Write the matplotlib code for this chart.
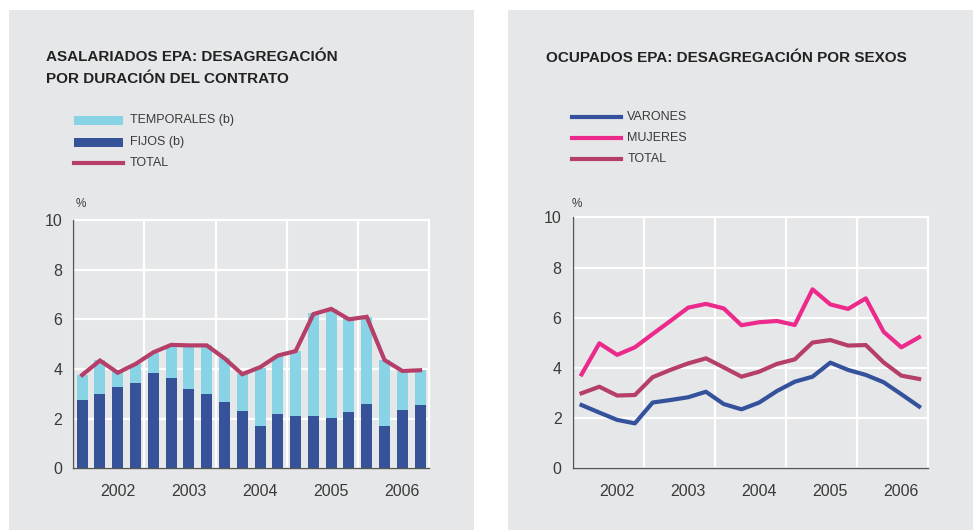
import matplotlib
matplotlib.use("Agg")
import matplotlib.pyplot as plt
from matplotlib.patches import Rectangle
from matplotlib.lines import Line2D

plt.rcParams['font.family'] = ['Liberation Sans', 'DejaVu Sans']

# quarterly data, 2002 Q1 .. 2006 Q4
years = ["2002", "2003", "2004", "2005", "2006"]

fijos = [2.75, 2.99, 3.28, 3.44, 3.84, 3.64, 3.19, 2.99, 2.67, 2.31,
         1.70, 2.19, 2.11, 2.11, 2.03, 2.27, 2.59, 1.70, 2.35, 2.55]
temporales = [1.01, 1.37, 0.64, 0.76, 0.79, 1.33, 1.78, 1.98, 1.76, 1.48,
              2.33, 2.33, 2.60, 4.13, 4.39, 3.77, 3.49, 2.66, 1.57, 1.41]
total_asal = [3.76, 4.34, 3.85, 4.20, 4.67, 4.97, 4.95, 4.95, 4.43, 3.79,
              4.07, 4.54, 4.72, 6.21, 6.42, 6.00, 6.10, 4.36, 3.92, 3.95]

varones = [2.52, 2.22, 1.93, 1.79, 2.62, 2.72, 2.83, 3.05, 2.56, 2.35,
           2.62, 3.08, 3.45, 3.65, 4.21, 3.92, 3.72, 3.43, 2.95, 2.46]
mujeres = [3.74, 4.98, 4.52, 4.82, 5.35, 5.87, 6.40, 6.55, 6.37, 5.70,
           5.82, 5.87, 5.71, 7.13, 6.53, 6.35, 6.77, 5.44, 4.82, 5.22]
total_ocup = [2.99, 3.25, 2.90, 2.92, 3.63, 3.92, 4.18, 4.38, 4.02, 3.65,
              3.85, 4.16, 4.34, 5.01, 5.11, 4.89, 4.91, 4.22, 3.69, 3.56]

BG = '#e6e7e9'
C_FIJ = '#36539a'
C_TEMP = '#88d3e6'
C_TOT = '#b53f68'
C_MUJ = '#ec2a8c'
C_VAR = '#34529b'
TXT = '#3a3a3a'

W, H = 973, 530
fig = plt.figure(figsize=(W / 100, H / 100), dpi=100)


def fx(px):
    return px / W


def fy(py):
    return 1 - py / H


# gray panels
fig.patches.append(Rectangle((fx(9), 0), fx(474) - fx(9), fy(10), transform=fig.transFigure,
                             facecolor=BG, edgecolor='none', zorder=-10))
fig.patches.append(Rectangle((fx(508), 0), 1 - fx(508), fy(10), transform=fig.transFigure,
                             facecolor=BG, edgecolor='none', zorder=-10))

x = [i + 0.5 for i in range(len(fijos))]


def style_axes(ax):
    ax.set_facecolor('none')
    ax.set_xlim(0, 20)
    ax.set_ylim(0, 10)
    ax.set_yticks([0, 2, 4, 6, 8, 10])
    ax.set_xticks([0, 4, 8, 12, 16, 20])
    ax.set_xticklabels([])
    ax.set_xticks([2.48 + 4 * i for i in range(5)], minor=True)
    ax.set_xticklabels(years, minor=True)
    ax.tick_params(axis='both', which='both', length=0, colors=TXT, labelsize=11.5)
    ax.tick_params(axis='y', pad=8)
    ax.tick_params(axis='x', which='minor', pad=11)
    for s in ['top', 'right']:
        ax.spines[s].set_visible(False)
    for s in ['left', 'bottom']:
        ax.spines[s].set_color('#555555')
        ax.spines[s].set_linewidth(1.0)
    ax.grid(True, which='major', color='white', linewidth=1.6, zorder=0)
    ax.set_axisbelow(True)
    for line in ax.get_xgridlines() + ax.get_ygridlines():
        line.set_clip_on(False)


# left panel
ax1 = fig.add_axes([fx(73.3), fy(468.3), fx(429) - fx(73.3), fy(220) - fy(468.3)])
style_axes(ax1)
ax1.bar(x, fijos, width=0.62, color=C_FIJ, zorder=2)
ax1.bar(x, temporales, bottom=fijos, width=0.62, color=C_TEMP, zorder=2)
ax1.plot(x, total_asal, color=C_TOT, linewidth=3, zorder=3, solid_joinstyle='miter')

# right panel
ax2 = fig.add_axes([fx(572.7), fy(468.3), fx(928) - fx(572.7), fy(217.3) - fy(468.3)])
style_axes(ax2)
ax2.plot(x, varones, color=C_VAR, linewidth=3, zorder=3)
ax2.plot(x, mujeres, color=C_MUJ, linewidth=3, zorder=3)
ax2.plot(x, total_ocup, color=C_TOT, linewidth=3, zorder=3)

# titles
fig.text(fx(46), fy(68), "ASALARIADOS EPA: DESAGREGACIÓN\nPOR DURACIÓN DEL CONTRATO",
         fontsize=11, fontweight='bold', color='#222222', va='center', ha='left',
         linespacing=1.68)
fig.text(fx(546), fy(57.5), "OCUPADOS EPA: DESAGREGACIÓN POR SEXOS",
         fontsize=11, fontweight='bold', color='#222222', va='center', ha='left')

# % labels
fig.text(fx(81), fy(204), "%", fontsize=8.5, color=TXT, ha='center', va='center')
fig.text(fx(577), fy(204), "%", fontsize=8.5, color=TXT, ha='center', va='center')

# left legend
left_items = [("TEMPORALES (b)", C_TEMP, 'patch'), ("FIJOS (b)", C_FIJ, 'patch'),
              ("TOTAL", C_TOT, 'line')]
for (label, col, kind), yy in zip(left_items, [120.3, 142.3, 162.7]):
    if kind == 'patch':
        fig.patches.append(Rectangle((fx(74), fy(yy + 4.5)), fx(122.7) - fx(74), fy(yy - 4.5) - fy(yy + 4.5),
                                     transform=fig.transFigure, facecolor=col, edgecolor='none'))
    else:
        fig.lines.append(Line2D([fx(74), fx(122.7)], [fy(yy), fy(yy)], transform=fig.transFigure,
                                color=col, linewidth=3))
    fig.text(fx(130), fy(yy), label, fontsize=9, color=TXT, ha='left', va='center')

# right legend
right_items = [("VARONES", C_VAR), ("MUJERES", C_MUJ), ("TOTAL", C_TOT)]
for (label, col), yy in zip(right_items, [117.3, 138.3, 159.3]):
    fig.lines.append(Line2D([fx(571.7), fx(620.7)], [fy(yy), fy(yy)], transform=fig.transFigure,
                            color=col, linewidth=3))
    fig.text(fx(627.3), fy(yy), label, fontsize=9, color=TXT, ha='left', va='center')

fig.savefig("out.png", dpi=100, facecolor='white')
